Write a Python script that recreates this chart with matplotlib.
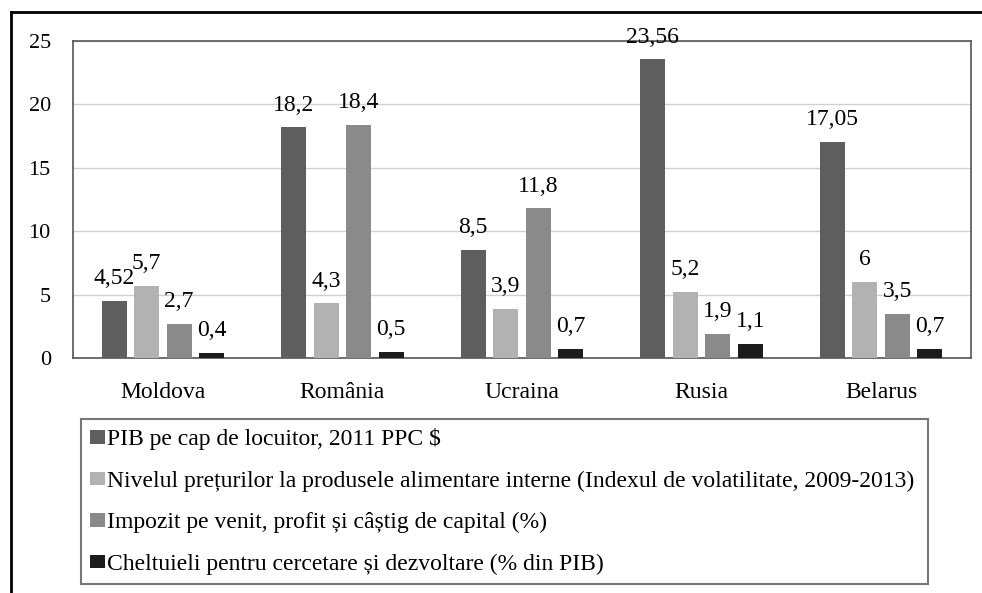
import matplotlib.pyplot as plt
import numpy as np
from matplotlib.lines import Line2D

plt.rcParams['font.family'] = ['Liberation Serif', 'DejaVu Serif']

# Data
countries = ['Moldova', 'România', 'Ucraina', 'Rusia', 'Belarus']
series_names = [
    'PIB pe cap de locuitor, 2011 PPC $',
    'Nivelul prețurilor la produsele alimentare interne (Indexul de volatilitate, 2009-2013)',
    'Impozit pe venit, profit și câștig de capital (%)',
    'Cheltuieli pentru cercetare și dezvoltare (% din PIB)',
]
pib = [4.52, 18.2, 8.5, 23.56, 17.05]
nivel_preturi = [5.7, 4.3, 3.9, 5.2, 6]
impozit = [2.7, 18.4, 11.8, 1.9, 3.5]
cheltuieli = [0.4, 0.5, 0.7, 1.1, 0.7]
colors = ['#5e5e5e', '#b2b2b2', '#8a8a8a', '#1c1c1c']

fig = plt.figure(figsize=(9.82, 5.93), dpi=100)
ax = fig.add_axes([73 / 982, 1 - 358 / 593, 898 / 982, 317 / 593])

x = np.arange(len(countries))
step = 0.181
width = 0.139
for i, (vals, name, c) in enumerate(zip([pib, nivel_preturi, impozit, cheltuieli], series_names, colors)):
    pos = x + (i - 1.5) * step
    ax.bar(pos, vals, width, color=c, label=name, zorder=3)
    for px, v in zip(pos, vals):
        txt = ('%g' % v).replace('.', ',')
        ax.annotate(txt, (px, v), xytext=(0, 16), textcoords='offset points',
                    ha='center', va='center', fontsize=17)

ax.set_ylim(0, 25)
ax.set_xlim(-0.5, len(countries) - 0.5)
ax.set_yticks([0, 5, 10, 15, 20, 25])
ax.set_xticks(x)
ax.set_xticklabels(countries)
ax.tick_params(axis='both', length=0, labelsize=16)
ax.tick_params(axis='x', labelsize=17, pad=17)
ax.tick_params(axis='y', pad=16)
ax.yaxis.grid(True, color='#d0d0d0', linewidth=1, zorder=0)
ax.set_axisbelow(True)
for s in ax.spines.values():
    s.set_color('#555555')
    s.set_linewidth(1.2)

leg = fig.legend(loc='upper left', bbox_to_anchor=(81 / 982, 1 - 419 / 593, 847 / 982, 0),
                 mode='expand', ncol=1, fontsize=17, frameon=True, fancybox=False,
                 handlelength=0.6, handleheight=0.5, handletextpad=0.1,
                 labelspacing=0.86, borderaxespad=0, borderpad=0.4)
leg.get_frame().set_edgecolor('#555555')
leg.get_frame().set_linewidth(1.5)

# outer frame
fig.add_artist(Line2D([11 / 982, 11 / 982], [0, 1 - 12 / 593], color='black', linewidth=2))
fig.add_artist(Line2D([11 / 982, 1], [1 - 12 / 593, 1 - 12 / 593], color='black', linewidth=2))

fig.savefig('out.png', dpi=100)
